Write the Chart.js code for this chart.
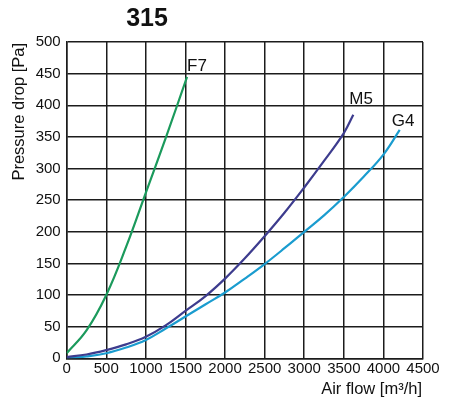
<!DOCTYPE html>
<html><head><meta charset="utf-8">
<script src="https://cdn.jsdelivr.net/npm/chart.js@4.4.1/dist/chart.umd.min.js"></script>
<style>html,body{margin:0;padding:0;background:#fff}#wrap{width:450px;height:409px;position:relative}</style>
</head><body><div id="wrap"><canvas id="c" width="450" height="409"></canvas></div>
<script>
const chartTitle = '315';
const xTitle = 'Air flow [m³/h]';
const yTitle = 'Pressure drop [Pa]';
const seriesNames = ['F7', 'M5', 'G4'];
const seriesColors = ['#1b9a5c', '#3d3c8e', '#1a9ccf'];

const flowF7 = [0, 250, 500, 750, 1000, 1250, 1520];
const pressureF7 = [8, 44, 100, 176, 262, 348, 445];

const flowM5 = [0, 250, 500, 750, 1000, 1250, 1500, 1750, 2000, 2250, 2500, 2750, 3000, 3250, 3500, 3620];
const pressureM5 = [2, 6, 13, 22, 34, 52, 75, 98, 126, 158, 193, 230, 270, 312, 356, 385];

const flowG4 = [0, 250, 500, 750, 1000, 1250, 1500, 1750, 2000, 2250, 2500, 2750, 3000, 3250, 3500, 3750, 4000, 4206];
const pressureG4 = [0, 3, 8, 17, 29, 47, 66, 85, 104, 126, 149, 174, 200, 226, 255, 287, 322, 361];

const xMin = 0, xMax = 4500, xStep = 500;
const yMin = 0, yMax = 500, yStep = 50;

const FONT = '"Liberation Sans", Arial, sans-serif';
const GRID = '#1c1c1c';

function pts(xs, ys) { return xs.map((x, i) => ({ x: x, y: ys[i] })); }

const flows = [flowF7, flowM5, flowG4];
const pressures = [pressureF7, pressureM5, pressureG4];
// label offsets (px) relative to the last point of each curve
const labelOffsets = [[0, -6], [-4, -11], [-8, -4]];

const labelPlugin = {
  id: 'labels',
  afterDraw(chart) {
    const ctx = chart.ctx;
    const xs = chart.scales.x, ys = chart.scales.y;
    ctx.save();
    ctx.fillStyle = '#111';
    ctx.font = 'bold 25px ' + FONT;
    ctx.textAlign = 'center';
    ctx.textBaseline = 'alphabetic';
    ctx.fillText(chartTitle, 147, 26);
    ctx.font = '17px ' + FONT;
    ctx.textAlign = 'left';
    seriesNames.forEach((n, i) => {
      const f = flows[i], p = pressures[i];
      const px = xs.getPixelForValue(f[f.length - 1]);
      const py = ys.getPixelForValue(p[p.length - 1]);
      ctx.fillText(n, px + labelOffsets[i][0], py + labelOffsets[i][1]);
    });
    ctx.font = '16.5px ' + FONT;
    ctx.textAlign = 'right';
    ctx.fillText(xTitle, chart.chartArea.right - 1, 394);
    ctx.translate(24, chart.chartArea.top + 1);
    ctx.rotate(-Math.PI / 2);
    ctx.textAlign = 'right';
    ctx.fillText(yTitle, 0, 0);
    ctx.restore();
  }
};

new Chart(document.getElementById('c'), {
  type: 'line',
  data: {
    datasets: seriesNames.map((n, i) => ({
      label: n,
      data: pts(flows[i], pressures[i]),
      borderColor: seriesColors[i],
      backgroundColor: seriesColors[i],
      borderWidth: 2.2,
      pointRadius: 0,
      fill: false,
      tension: 0.4
    }))
  },
  options: {
    responsive: false,
    animation: false,
    devicePixelRatio: 1,
    layout: { padding: { top: 42, right: 27, left: 0, bottom: 0 } },
    plugins: { legend: { display: false }, tooltip: { enabled: false }, title: { display: false } },
    scales: {
      x: {
        type: 'linear', min: xMin, max: xMax,
        ticks: { stepSize: xStep, color: '#111', font: { family: FONT, size: 15 }, padding: 2, maxRotation: 0, autoSkip: false,
                 callback: (v) => String(v) },
        grid: { color: GRID, lineWidth: 1.5, drawTicks: false },
        border: { color: GRID, width: 1.5 },
        afterFit(s) { s.height = 50.7; }
      },
      y: {
        min: yMin, max: yMax,
        ticks: { stepSize: yStep, color: '#111', font: { family: FONT, size: 15 }, padding: 6, callback: (v) => String(v) },
        grid: { color: GRID, lineWidth: 1.5, drawTicks: false },
        border: { color: GRID, width: 1.5 },
        afterFit(s) { s.width = 66.7; }
      }
    }
  },
  plugins: [labelPlugin]
});
</script>
</body></html>
